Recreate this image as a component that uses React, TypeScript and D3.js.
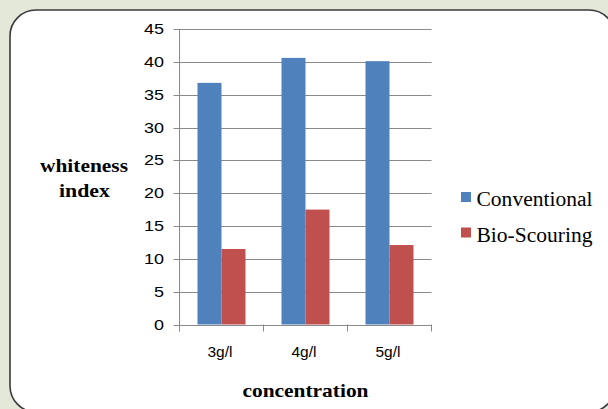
import React from "react";
import * as d3 from "d3";

const categories = ["3g/l", "4g/l", "5g/l"];
const seriesNames = ["Conventional", "Bio-Scouring"];
const conventional = [36.8, 40.6, 40.1];
const bioScouring = [11.5, 17.5, 12.1];
const yTicks = [0, 5, 10, 15, 20, 25, 30, 35, 40, 45];
const colors = ["#4f81bd", "#c0504d"];

const W = 608;
const H = 409;

export default function App() {
  const x = d3.scaleBand<string>().domain(categories).range([179.5, 431.5]).padding(0);
  const xs = d3
    .scaleBand<string>()
    .domain(seriesNames)
    .range([0, x.bandwidth()])
    .paddingInner(0)
    .paddingOuter(0.75);
  const y = d3.scaleLinear().domain([0, 45]).range([324.5, 29]);
  const values = [conventional, bioScouring];
  const [x0, x1] = x.range();

  return (
    <svg
      width={W}
      height={H}
      style={{ position: "absolute", left: 0, top: 0, display: "block" }}
    >
      <rect x={0} y={0} width={W} height={H} fill="#e3e8d9" />
      <rect
        x={10}
        y={10}
        width={605}
        height={402}
        rx={26}
        ry={26}
        fill="#ffffff"
        stroke="#3a3a3a"
        strokeWidth={1.6}
      />
      {/* gridlines */}
      {yTicks.map((t) => (
        <line
          key={"g" + t}
          x1={173.5}
          x2={x1}
          y1={Math.round(y(t)) + 0.5}
          y2={Math.round(y(t)) + 0.5}
          stroke="#8a8a8a"
          strokeWidth={1}
        />
      ))}
      {/* bars */}
      {categories.map((c, i) =>
        seriesNames.map((s, j) => (
          <rect
            key={c + s}
            x={(x(c) as number) + (xs(s) as number)}
            y={y(values[j][i])}
            width={xs.bandwidth()}
            height={y(0) - y(values[j][i])}
            fill={colors[j]}
          />
        ))
      )}
      {/* y axis */}
      <line x1={x0} x2={x0} y1={y(45)} y2={331.5} stroke="#8a8a8a" strokeWidth={1} />
      <line x1={x0} x2={x1} y1={Math.round(y(0)) + 0.5} y2={Math.round(y(0)) + 0.5} stroke="#8a8a8a" strokeWidth={1} />
      {/* x ticks */}
      {[...categories.map((c) => x(c) as number), x1].map((v, i) => (
        <line key={"xt" + i} x1={v} x2={v} y1={y(0)} y2={331.5} stroke="#8a8a8a" strokeWidth={1} />
      ))}
      {/* y tick labels */}
      {yTicks.map((t) => (
        <text
          key={"yl" + t}
          x={164}
          y={y(t) + 5}
          textAnchor="end"
          fontFamily="Liberation Sans, Arial, sans-serif"
          fontSize={14.5}
          fill="#000"
          textLength={t >= 10 ? 20 : 10}
          lengthAdjust="spacingAndGlyphs"
        >
          {t}
        </text>
      ))}
      {/* x labels */}
      {categories.map((c) => (
        <text
          key={"xl" + c}
          x={(x(c) as number) + x.bandwidth() / 2 - 1.5}
          y={357}
          textAnchor="middle"
          fontFamily="Liberation Sans, Arial, sans-serif"
          fontSize={14.5}
          fill="#000"
          textLength={25}
          lengthAdjust="spacingAndGlyphs"
        >
          {c}
        </text>
      ))}
      {/* axis titles */}
      <text
        x={305.5}
        y={397}
        textAnchor="middle"
        fontFamily="Liberation Serif, Times New Roman, serif"
        fontWeight="bold"
        fontSize={19}
        textLength={126}
        lengthAdjust="spacingAndGlyphs"
      >
        concentration
      </text>
      <text
        x={84}
        y={172}
        textAnchor="middle"
        fontFamily="Liberation Serif, Times New Roman, serif"
        fontWeight="bold"
        fontSize={19}
        textLength={88}
        lengthAdjust="spacingAndGlyphs"
      >
        whiteness
      </text>
      <text
        x={84.5}
        y={197}
        textAnchor="middle"
        fontFamily="Liberation Serif, Times New Roman, serif"
        fontWeight="bold"
        fontSize={19}
        textLength={51}
        lengthAdjust="spacingAndGlyphs"
      >
        index
      </text>
      {/* legend */}
      {seriesNames.map((s, j) => (
        <g key={"lg" + s} transform={`translate(0, ${j * 35.5})`}>
          <rect x={461} y={192} width={10} height={10} fill={colors[j]} />
          <text
            x={476.5}
            y={206}
            fontFamily="Liberation Serif, Times New Roman, serif"
            fontSize={20}
            fill="#000"
            textLength={116}
            lengthAdjust="spacingAndGlyphs"
          >
            {s}
          </text>
        </g>
      ))}
    </svg>
  );
}
